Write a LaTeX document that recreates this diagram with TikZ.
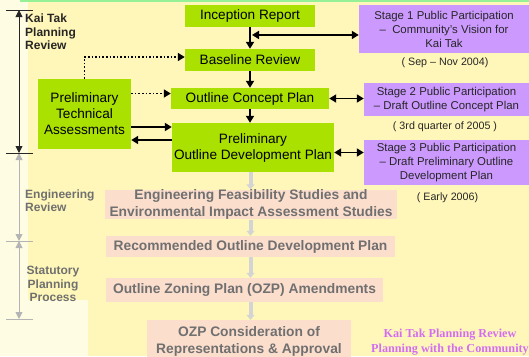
\documentclass[tikz,border=0pt]{standalone}
\usepackage{fontspec}
\setmainfont{Liberation Sans}
\newfontfamily\serifbold{Liberation Serif}
\usetikzlibrary{arrows.meta,calc}
\definecolor{bgyellow}{RGB}{255,247,185}
\definecolor{bglight}{RGB}{255,252,228}
\definecolor{topline}{RGB}{150,240,150}
\definecolor{lgreen}{RGB}{170,225,0}
\definecolor{lpurple}{RGB}{204,153,255}
\definecolor{lpeach}{RGB}{252,222,205}
\definecolor{greytext}{RGB}{112,112,112}
\definecolor{greyarrow}{RGB}{212,212,212}
\definecolor{violettext}{RGB}{212,110,240}
\tikzset{
  gbox/.style={fill=lgreen, inner sep=0pt, align=center, text=black,
    font=\fontsize{13.6}{16}\selectfont},
  pbox/.style={fill=lpurple, inner sep=0pt, align=center, text=black!85,
    font=\fontsize{11.4}{14}\selectfont},
  ebox/.style={fill=lpeach, inner sep=0pt, align=center, text=greytext,
    font=\bfseries\fontsize{13.8}{17}\selectfont},
  datelbl/.style={inner sep=0pt, text=black!85, font=\fontsize{10.7}{13}\selectfont},
  sidelbl/.style={inner sep=0pt, font=\bfseries\fontsize{12}{13.5}\selectfont},
  blkarrow/.style={line width=1.8pt, -{Triangle[length=7pt,width=8pt]}},
  dblarrow/.style={line width=1.8pt, {Triangle[length=7pt,width=8pt]}-{Triangle[length=7pt,width=8pt]}},
  dotarrow/.style={line width=1.6pt, dotted, -{Triangle[length=7pt,width=8pt]}},
  garrow/.style={line width=4pt, greyarrow, -{Triangle[length=5pt,width=8pt]}},
  brkline/.style={line width=0.9pt, {Triangle[length=7pt,width=7pt]}-{Triangle[length=7pt,width=7pt]}},
  tickline/.style={line width=1pt},
}
\begin{document}
\begin{tikzpicture}[x=1pt,y=-1pt]
\useasboundingbox (0,0) rectangle (529,356);
\clip (0,0) rectangle (529,356);
% background
\fill[bgyellow] (0,0) rectangle (529,356);
\fill[bglight] (0,0) rectangle (28,356);
\fill[bglight] (0,300) rectangle (88,356);
\fill[topline] (20,0) rectangle (529,1.5);

% green boxes
\node[gbox, minimum width=130pt, minimum height=22pt] (inc) at (250,16) {Inception Report};
\node[gbox, minimum width=130pt, minimum height=22pt] (base) at (250,60) {Baseline Review};
\node[gbox, minimum width=158pt, minimum height=21pt] (ocp) at (250,98.5) {Outline Concept Plan};
\node[gbox, minimum width=162pt, minimum height=49pt] (podp) at (253,147.5) {Preliminary\\Outline Development Plan};
\node[gbox, minimum width=93pt, minimum height=70pt] (pta) at (84.5,114) {Preliminary\\Technical\\Assessments};

% purple boxes
\node[pbox, minimum width=170pt, minimum height=48pt] (s1) at (444,29) {Stage 1 Public Participation\\–\ \ Community’s Vision for\\Kai Tak};
\node[pbox, minimum width=165pt, minimum height=33pt] (s2) at (446.5,99.5) {Stage 2 Public Participation\\– Draft Outline Concept Plan};
\node[pbox, minimum width=165pt, minimum height=45pt] (s3) at (446.5,162.5) {Stage 3 Public Participation\\– Draft Preliminary Outline\\Development Plan};

% dates
\node[datelbl] (d1) at (445,63) {( Sep – Nov 2004)};
\node[datelbl] (d2) at (445,127) {( 3rd quarter of 2005 )};
\node[datelbl] (d3) at (447.5,198) {( Early 2006)};

% peach boxes
\node[ebox, minimum width=292pt, minimum height=29pt] (eng) at (251,204.5) {Engineering Feasibility Studies and\\Environmental Impact Assessment Studies};
\node[ebox, minimum width=289pt, minimum height=21pt] (rec) at (250.5,246.5) {Recommended Outline Development Plan};
\node[ebox, minimum width=277pt, minimum height=24pt] (ozp) at (244.5,290) {Outline Zoning Plan (OZP) Amendments};
\node[ebox, minimum width=204pt, minimum height=42pt] (cons) at (249,341) {OZP Consideration of\\Representations \& Approval};

% black arrows in the upper part
\draw[blkarrow] (inc.south) -- (base.north);
\coordinate (m1) at ($(inc.south)!0.36!(base.north)$);
\draw[dblarrow] ([xshift=2pt]m1) -- (m1 -| s1.west);
\draw[blkarrow] (base.south) -- (ocp.north);
\draw[blkarrow] (ocp.south) -- (ocp.south |- podp.north);
\draw[dblarrow] (ocp.east) -- (ocp.east -| s2.west);
\coordinate (m3) at ([yshift=-5pt]podp.east);
\draw[dblarrow] (m3) -- (m3 -| s3.west);

% dotted arrows from the assessments
\coordinate (bw) at ([yshift=3pt]base.west);
\draw[dotarrow] (pta.north) |- (bw);
\coordinate (ow) at ([yshift=5pt]ocp.west);
\draw[dotarrow] (ow -| pta.east) -- (ow);
\coordinate (pw1) at ([yshift=20.5pt]podp.west);
\coordinate (pw2) at ([yshift=7.5pt]podp.west);
\draw[blkarrow] (pw1 -| pta.east) -- (pw1);
\draw[blkarrow] (pw2) -- (pw2 -| pta.east);

% grey arrows in the lower part
\draw[garrow] (rec.north |- podp.south) -- (rec.north |- eng.north);
\draw[garrow] (rec.north |- eng.south) -- (rec.north);
\draw[garrow] (rec.south) -- (rec.south |- ozp.north);
\draw[garrow] (rec.south |- ozp.south) -- (rec.south |- cons.north);

% left brackets
\coordinate (k1) at (19,10);
\coordinate (k2) at (19,153);
\coordinate (k3) at (19,241);
\coordinate (k4) at (19,319);
\draw[brkline, black!85] (k1) -- (k2);
\draw[brkline, greyarrow!85!black] (k2) -- (k3);
\draw[brkline, greyarrow!85!black] (k3) -- (k4);
\draw[tickline, greyarrow!85!black] ([xshift=-13pt]k3) -- ([xshift=14pt]k3);
\draw[tickline, greyarrow!85!black] ([xshift=-13pt]k4) -- ([xshift=14pt]k4);
\draw[tickline, black!85] ([xshift=-13pt]k1) -- ([xshift=14pt]k1);
\draw[tickline, black!85] ([xshift=-13pt]k2) -- ([xshift=14pt]k2);

\node[sidelbl, anchor=north west, align=left, text=black!85] (lkt) at (25,14) {Kai Tak\\Planning\\Review};
\node[sidelbl, anchor=north west, align=left, text=greytext] (ler) at (25,189.5) {Engineering\\Review};
\node[sidelbl, align=center, text=greytext] (lsp) at (53,284) {Statutory\\Planning\\Process};

% bottom caption
\node[inner sep=0pt, align=center, text=violettext, font=\serifbold\bfseries\fontsize{12.2}{15}\selectfont] (cap) at (450,342) {Kai Tak Planning Review\\Planning with the Community};
\end{tikzpicture}
\end{document}
